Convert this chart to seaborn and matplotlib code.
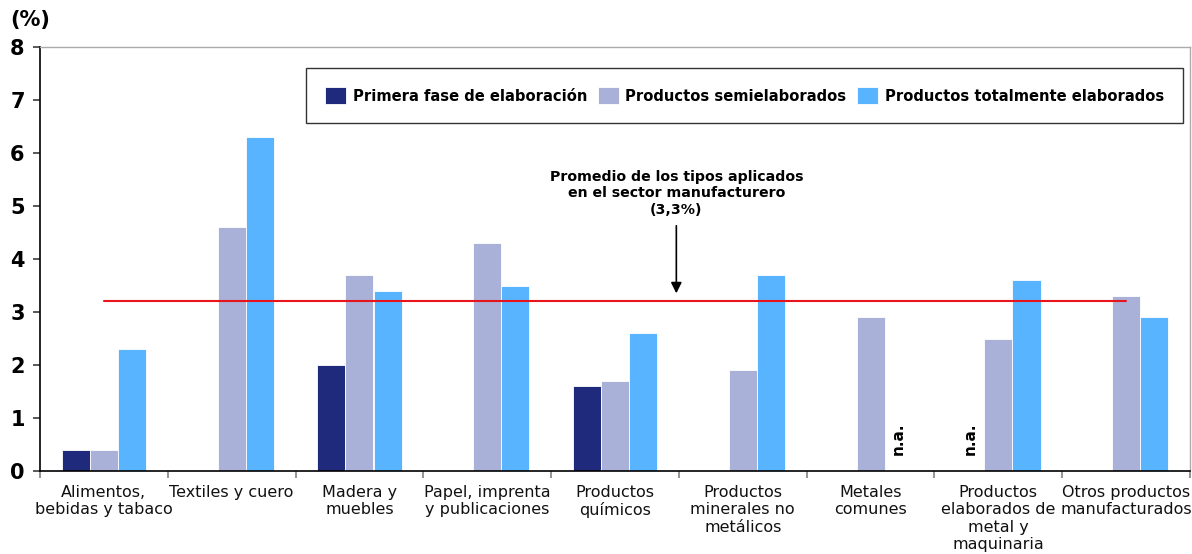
import numpy as np
import pandas as pd
import matplotlib
matplotlib.use("Agg")
import matplotlib.pyplot as plt
import seaborn as sns

categories = [
    "Alimentos,\nbebidas y tabaco",
    "Textiles y cuero",
    "Madera y\nmuebles",
    "Papel, imprenta\ny publicaciones",
    "Productos\nquímicos",
    "Productos\nminerales no\nmetálicos",
    "Metales\ncomunes",
    "Productos\nelaborados de\nmetal y\nmaquinaria",
    "Otros productos\nmanufacturados",
]
series_names = [
    "Primera fase de elaboración",
    "Productos semielaborados",
    "Productos totalmente elaborados",
]
primera = [0.4, np.nan, 2.0, np.nan, 1.6, np.nan, np.nan, np.nan, np.nan]
semielaborados = [0.4, 4.6, 3.7, 4.3, 1.7, 1.9, 2.9, 2.5, 3.3]
totalmente = [2.3, 6.3, 3.4, 3.5, 2.6, 3.7, np.nan, 3.6, 2.9]
promedio = 3.2
promedio_label = "Promedio de los tipos aplicados\nen el sector manufacturero\n(3,3%)"
promedio_arrow_tip = 3.3
na_marks = [(6, 2), (7, 0)]  # (category index, series index)

colors = ["#1F2A7C", "#A9B1D8", "#58B4FF"]

sns.set_theme(style="white")
plt.rcParams["font.family"] = ["DejaVu Sans"]
plt.rcParams["text.color"] = "black"
plt.rcParams["xtick.color"] = "black"
plt.rcParams["ytick.color"] = "black"

df = pd.DataFrame({
    "categoria": np.repeat(categories, 3),
    "serie": series_names * len(categories),
    "valor": np.column_stack([primera, semielaborados, totalmente]).ravel(),
})

fig = plt.figure(figsize=(11.92, 5.54), dpi=100)
ax = fig.add_axes([40 / 1192, 1 - 471 / 554, 1150 / 1192, 424 / 554])

sns.barplot(data=df, x="categoria", y="valor", hue="serie", order=categories,
            hue_order=series_names, palette=colors, width=0.66, dodge=True,
            edgecolor="white", linewidth=0.6, saturation=1, ax=ax, legend=True)

ax.set_xlim(-0.5, len(categories) - 0.5)
ax.set_ylim(0, 8)
ax.set_yticks(range(0, 9))
ax.set_yticklabels([str(i) for i in range(0, 9)], fontsize=15, fontweight="bold", color="black")
ax.set_xticks(np.arange(-0.5, len(categories) - 0.4, 1.0), minor=False)
ax.set_xticklabels([])
ax.set_xticks(np.arange(len(categories)), minor=True)
ax.set_xticklabels(categories, minor=True, fontsize=11.5, color="#111111")
ax.tick_params(axis="x", which="minor", length=0, pad=10)
ax.tick_params(axis="x", which="major", length=5, color="#888888", direction="out", bottom=True)
ax.tick_params(axis="y", length=5, color="#444444", direction="out", left=True, pad=6)
ax.set_xlabel("")
ax.set_ylabel("")

for side in ["top", "right"]:
    ax.spines[side].set_color("#aaaaaa")
    ax.spines[side].set_linewidth(1.0)
for side in ["left", "bottom"]:
    ax.spines[side].set_color("black")
    ax.spines[side].set_linewidth(1.2)

# average line across the category centres
ax.plot([0, len(categories) - 1], [promedio, promedio], color="#E8141B", linewidth=1.5, zorder=4)

# annotation with arrow
ax.annotate("", xy=(4.48, promedio_arrow_tip), xytext=(4.48, 4.68),
            arrowprops=dict(arrowstyle="-|>", color="black", lw=1.2, mutation_scale=16))
ax.text(4.48, 4.8, promedio_label, ha="center", va="bottom", fontsize=10.2,
        fontweight="bold", linespacing=1.2)

# n.a. labels at missing bars
offsets = [-0.22, 0.0, 0.22]
for ci, si in na_marks:
    ax.text(ci + offsets[si], 0.3, "n.a.", rotation=90, ha="center", va="bottom",
            fontsize=11, fontweight="bold")

leg = ax.legend(loc="upper right", bbox_to_anchor=(1143 / 1150, (471 - 68) / 424),
                borderaxespad=0, ncol=3, frameon=True, fancybox=False,
                handlelength=1.4, handleheight=1.4, handletextpad=0.45,
                columnspacing=0.75, borderpad=1.3, prop={"weight": "bold", "size": 10.6})
leg.get_frame().set_edgecolor("black")
leg.get_frame().set_linewidth(1.0)

fig.text(10 / 1192, 1 - 20 / 554, "(%)", fontsize=15, fontweight="bold", va="center", ha="left")

fig.savefig("out.png", dpi=100)
